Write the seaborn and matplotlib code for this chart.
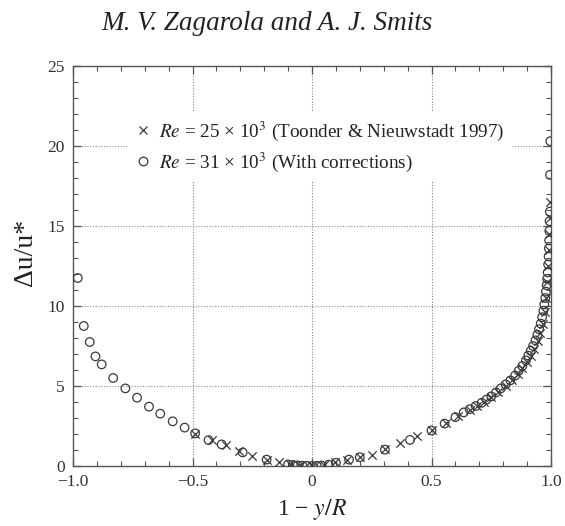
import matplotlib
matplotlib.use("Agg")
import matplotlib.pyplot as plt
import seaborn as sns
import pandas as pd
from matplotlib.lines import Line2D
from matplotlib.ticker import MultipleLocator, FixedLocator, FixedFormatter

# ---------------- data ----------------
circ_x = [-0.98, -0.955, -0.93, -0.906, -0.88, -0.832, -0.781, -0.732, -0.682, -0.635,
          -0.583, -0.533, -0.489, -0.433, -0.378, -0.29, -0.19, -0.10, -0.08, -0.06,
          -0.04, -0.02, 0.0, 0.02, 0.04, 0.07, 0.10, 0.155, 0.20, 0.305,
          0.41, 0.50, 0.555, 0.60, 0.635, 0.66, 0.685, 0.71, 0.73, 0.75,
          0.77, 0.79, 0.81, 0.83, 0.85, 0.865, 0.88, 0.895, 0.905, 0.915,
          0.925, 0.935, 0.943, 0.950, 0.957, 0.963, 0.968, 0.972, 0.976, 0.979,
          0.982, 0.984, 0.986, 0.988, 0.990, 0.991, 0.992, 0.993, 0.994, 0.995,
          0.996, 0.997]
circ_y = [11.75, 8.75, 7.75, 6.85, 6.35, 5.5, 4.85, 4.27, 3.71, 3.27,
          2.79, 2.40, 2.04, 1.62, 1.35, 0.85, 0.40, 0.10, 0.06, 0.04,
          0.02, 0.01, 0.0, 0.01, 0.03, 0.08, 0.20, 0.40, 0.55, 1.02,
          1.63, 2.22, 2.65, 3.05, 3.35, 3.55, 3.75, 3.95, 4.15, 4.35,
          4.6, 4.85, 5.1, 5.35, 5.65, 5.95, 6.25, 6.6, 6.9, 7.2,
          7.5, 7.85, 8.2, 8.55, 8.9, 9.3, 9.7, 10.1, 10.5, 10.9,
          11.3, 11.7, 12.1, 12.6, 13.1, 13.6, 14.1, 14.7, 15.3, 15.9,
          18.2, 20.3]

cross_x = [-0.49, -0.42, -0.36, -0.305, -0.25, -0.19, -0.14, -0.09, -0.05, 0.0,
           0.05, 0.095, 0.145, 0.20, 0.25, 0.305, 0.37, 0.44, 0.50, 0.56,
           0.61, 0.66, 0.69, 0.72, 0.75, 0.78, 0.81, 0.835, 0.86, 0.88,
           0.90, 0.915, 0.93, 0.945, 0.955, 0.965, 0.973, 0.98, 0.985, 0.988,
           0.990, 0.992, 0.994, 0.995]
cross_y = [2.0, 1.6, 1.3, 0.95, 0.6, 0.38, 0.25, 0.10, 0.05, 0.0,
           0.08, 0.25, 0.37, 0.55, 0.70, 1.05, 1.45, 1.85, 2.25, 2.7,
           3.1, 3.5, 3.75, 4.0, 4.3, 4.65, 5.0, 5.35, 5.75, 6.1,
           6.5, 6.9, 7.3, 7.8, 8.3, 8.9, 9.6, 10.5, 11.5, 12.5,
           13.5, 14.5, 15.5, 16.5]

label_cross = r"$Re$ = 25 × 10$^{3}$ (Toonder & Nieuwstadt 1997)"
label_circ = r"$Re$ = 31 × 10$^{3}$ (With corrections)"
title_text = "M. V. Zagarola and A. J. Smits"
xlabel_text = r"1 − $y/R$"
ylabel_text = "Δu/u*"
xtick_vals = [-1.0, -0.5, 0.0, 0.5, 1.0]
xtick_labels = ["−1.0", "−0.5", "0", "0.5", "1.0"]
ytick_vals = [0, 5, 10, 15, 20, 25]
ytick_labels = ["0", "5", "10", "15", "20", "25"]

# ---------------- style ----------------
sns.set_theme(style="white")
plt.rcParams["font.family"] = ["Liberation Serif", "DejaVu Serif"]
plt.rcParams["mathtext.fontset"] = "stix"

ink = "#3a3a3a"
fig = plt.figure(figsize=(5.65, 5.26), dpi=100)
ax = fig.add_axes([73 / 565, 1 - 466 / 526, (551 - 73) / 565, (466 - 66) / 526])

df_circ = pd.DataFrame({"x": circ_x, "y": circ_y})
df_cross = pd.DataFrame({"x": cross_x, "y": cross_y})

sns.scatterplot(data=df_cross, x="x", y="y", marker="x", color=ink, s=36,
                linewidth=0.9, ax=ax, zorder=3)
sns.scatterplot(data=df_circ, x="x", y="y", marker="o", facecolor="none",
                edgecolor=ink, s=38, linewidth=0.9, ax=ax, zorder=3)

ax.set_xlim(-1.0, 1.0)
ax.set_ylim(0, 25)

ax.xaxis.set_major_locator(FixedLocator(xtick_vals))
ax.xaxis.set_major_formatter(FixedFormatter(xtick_labels))
ax.yaxis.set_major_locator(FixedLocator(ytick_vals))
ax.yaxis.set_major_formatter(FixedFormatter(ytick_labels))
ax.xaxis.set_minor_locator(MultipleLocator(0.1))
ax.yaxis.set_minor_locator(MultipleLocator(1))

ax.tick_params(which="both", direction="in", top=True, right=True,
               bottom=True, left=True, color="#555555", labelcolor="#333333",
               labelsize=12.5, pad=6)
ax.tick_params(which="major", length=6, width=0.9)
ax.tick_params(which="minor", length=3.5, width=0.8)

for sp in ax.spines.values():
    sp.set_color("#555555")
    sp.set_linewidth(1.0)

# dotted grid at interior major ticks
for gx in [-0.5, 0.0, 0.5]:
    ax.axvline(gx, color="#888888", linestyle=(0, (1, 1.5)), linewidth=0.8, zorder=0)
for gy in [5, 10, 15, 20]:
    ax.axhline(gy, color="#888888", linestyle=(0, (1, 1.5)), linewidth=0.8, zorder=0)

ax.set_xlabel(xlabel_text, fontsize=17, color="#222222", labelpad=5)
ax.set_ylabel(ylabel_text, fontsize=20, color="#222222")
ax.yaxis.set_label_coords(-0.074, 0.535)

handles = [
    Line2D([], [], linestyle="none", marker="x", color=ink, markersize=6, markeredgewidth=0.9),
    Line2D([], [], linestyle="none", marker="o", markerfacecolor="none",
           markeredgecolor=ink, markersize=6.2, markeredgewidth=0.9),
]
leg = ax.legend(handles, [label_cross, label_circ], loc="upper left",
                bbox_to_anchor=(0.095, 0.91), fontsize=13.8, frameon=True,
                handlelength=0.8, handletextpad=0.4, labelspacing=0.42,
                borderpad=0.4, facecolor="white", edgecolor="none", framealpha=1.0)
for t in leg.get_texts():
    t.set_color("#222222")
leg.set_zorder(2)

fig.text(0.473, 0.956, title_text, style="italic", ha="center", va="center",
         fontsize=19.5, color="#222222")

fig.savefig("out.png", dpi=100)
